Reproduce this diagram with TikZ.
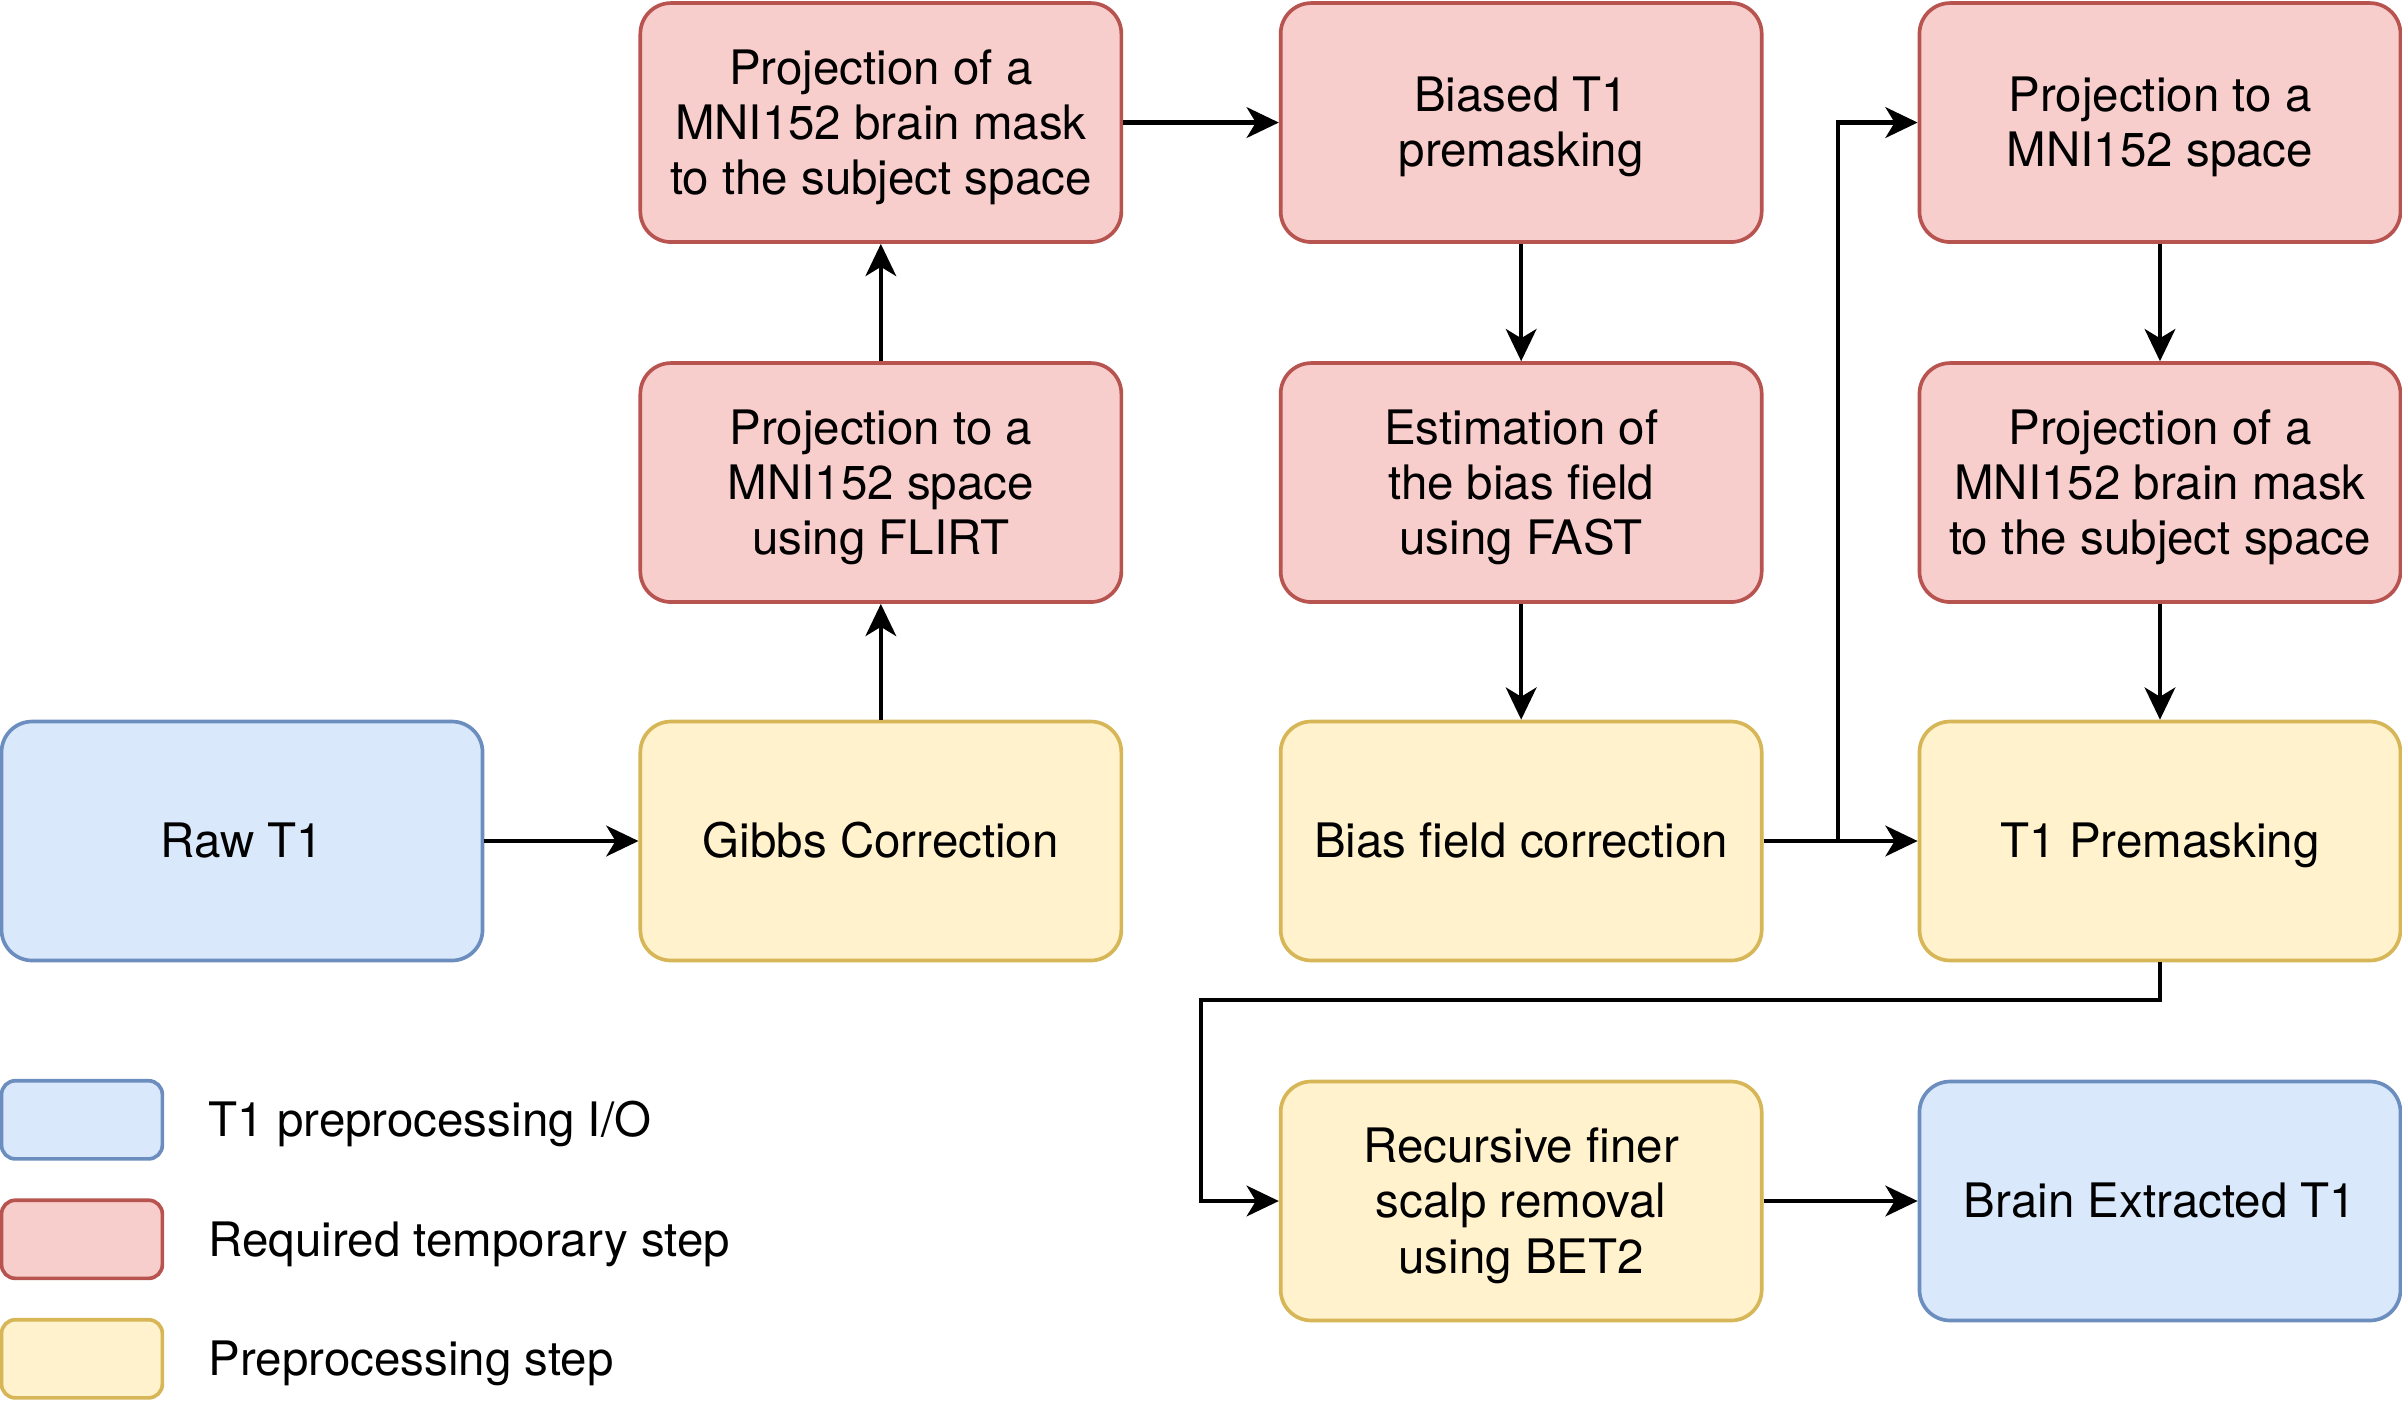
\documentclass[tikz,border=0pt]{standalone}
\usepackage{fontspec}
\setmainfont{TeX Gyre Heros}
\usetikzlibrary{arrows.meta}
\definecolor{bfill}{HTML}{DAE8FC}\definecolor{bline}{HTML}{6C8EBF}
\definecolor{rfill}{HTML}{F8CECC}\definecolor{rline}{HTML}{B85450}
\definecolor{yfill}{HTML}{FFF2CC}\definecolor{yline}{HTML}{D6B656}
\newcommand\topstrut{\rule{0pt}{30pt}}
\newcommand\botstrut{\rule[-8pt]{0pt}{8pt}}
\newcommand\tx[1]{\topstrut#1\botstrut}
\tikzset{
  box/.style={rectangle, rounded corners=20pt, line width=2.4pt, minimum width=314pt, minimum height=156pt, align=center, inner sep=0pt, font=\fontsize{31}{36}\selectfont},
  bluebox/.style={box, fill=bfill, draw=bline},
  redbox/.style={box, fill=rfill, draw=rline},
  yelbox/.style={box, fill=yfill, draw=yline},
  legbox/.style={rectangle, rounded corners=9pt, line width=2.4pt, minimum width=105pt, minimum height=51pt, inner sep=0pt},
  legtext/.style={anchor=west, inner sep=0pt, font=\fontsize{31}{36}\selectfont},
  conn/.style={line width=2.8pt, -{Stealth[length=21pt, width=20pt, inset=6pt]}}
}
\begin{document}
\begin{tikzpicture}[x=1pt, y=-1pt]
\useasboundingbox (0,0) rectangle (1568,918);
% row 1
\node[redbox] (maskA) at (575,80) {\tx{Projection of a\\MNI152 brain mask\\to the subject space}};
\node[redbox] (biased) at (993,80) {\tx{Biased T1\\premasking}};
\node[redbox] (projD) at (1410,80) {\tx{Projection to a\\MNI152 space}};
% row 2
\node[redbox] (flirt) at (575,315) {\tx{Projection to a\\MNI152 space\\using FLIRT}};
\node[redbox] (est) at (993,315) {\tx{Estimation of\\the bias field\\using FAST}};
\node[redbox] (maskD) at (1410,315) {\tx{Projection of a\\MNI152 brain mask\\to the subject space}};
% row 3
\node[bluebox] (raw) at (158,549) {\tx{Raw T1}};
\node[yelbox] (gibbs) at (575,549) {\tx{Gibbs Correction}};
\node[yelbox] (bfc) at (993,549) {\tx{Bias field correction}};
\node[yelbox] (prem) at (1410,549) {\tx{T1 Premasking}};
% row 4
\node[yelbox] (rec) at (993,784) {\tx{Recursive finer\\scalp removal\\using BET2}};
\node[bluebox] (bet) at (1410,784) {\tx{Brain Extracted T1}};
% legend
\node[legbox, fill=bfill, draw=bline] (l1) at (53.5,731) {};
\node[legbox, fill=rfill, draw=rline] (l2) at (53.5,809) {};
\node[legbox, fill=yfill, draw=yline] (l3) at (53.5,887) {};
\node[legtext] (t1) at (136,731) {\tx{T1 preprocessing I/O}};
\node[legtext] (t2) at (136,809) {\tx{Required temporary step}};
\node[legtext] (t3) at (136,887) {\tx{Preprocessing step}};
% connectors
\coordinate (j1) at (1200,549);
\coordinate (j2) at (1200,80);
\coordinate (k1) at (1410,653);
\coordinate (k2) at (784,653);
\coordinate (k3) at (784,784);
\draw[conn] (raw.east) -- (gibbs.west);
\draw[conn] (gibbs.north) -- (flirt.south);
\draw[conn] (flirt.north) -- (maskA.south);
\draw[conn] (maskA.east) -- (biased.west);
\draw[conn] (biased.south) -- (est.north);
\draw[conn] (est.south) -- (bfc.north);
\draw[conn] (bfc.east) -- (prem.west);
\draw[conn] (j1) -- (j2) -- (projD.west);
\draw[conn] (projD.south) -- (maskD.north);
\draw[conn] (maskD.south) -- (prem.north);
\draw[conn] (prem.south) -- (k1) -- (k2) -- (k3) -- (rec.west);
\draw[conn] (rec.east) -- (bet.west);
\end{tikzpicture}
\end{document}
